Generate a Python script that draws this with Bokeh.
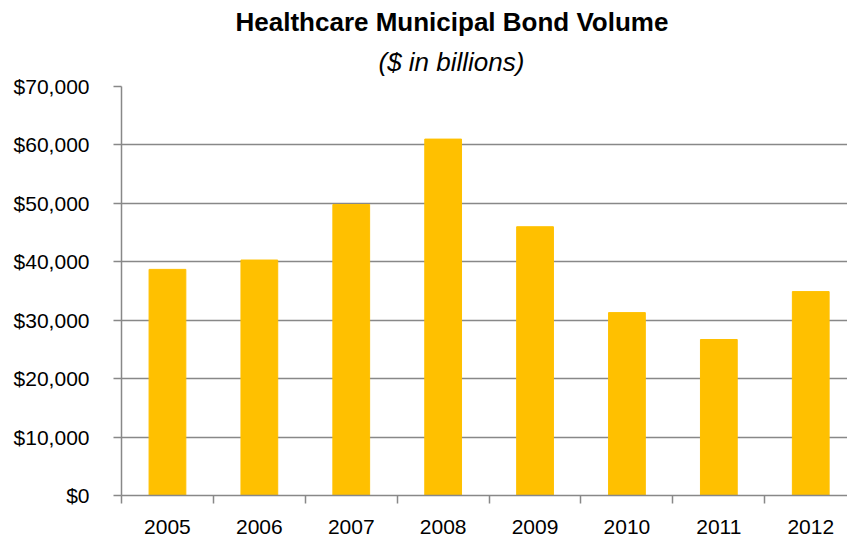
from bokeh.plotting import figure
from bokeh.models import Range1d, FixedTicker, Title, NumeralTickFormatter
from bokeh.embed import file_html
from bokeh.resources import INLINE

years = [2005, 2006, 2007, 2008, 2009, 2010, 2011, 2012]
volume = [38700, 40300, 49800, 61000, 46000, 31300, 26700, 34900]
y_ticks = [0, 10000, 20000, 30000, 40000, 50000, 60000, 70000]
year_labels = {y: str(y) for y in years}

FONT = "Liberation Sans"
GREY = "#888888"

p = figure(width=847, height=540, output_backend="svg", toolbar_location=None,
           x_range=Range1d(years[0] - 0.5, years[-1] + 0.4), y_range=Range1d(0, 70000),
           min_border_left=121, min_border_right=0, min_border_top=86, min_border_bottom=45)
p.outline_line_color = None
p.background_fill_color = "white"
p.border_fill_color = "white"

p.vbar(x=years, top=volume, width=0.4, color="#FFC000")

p.title = None
sub = Title(text="($ in billions)", text_font=FONT, text_font_size="26px", text_color="black",
            text_font_style="italic", align="left", offset=257, standoff=18,
            vertical_align="middle")
main = Title(text="Healthcare Municipal Bond Volume", text_font=FONT, text_font_size="26px",
             text_color="black", text_font_style="bold", align="left", offset=114, standoff=0)
p.add_layout(sub, "above")
p.add_layout(main, "above")

p.xgrid.grid_line_color = None
p.ygrid.grid_line_color = GREY
p.ygrid.grid_line_width = 1.5
p.ygrid.ticker = FixedTicker(ticks=y_ticks)

p.yaxis.ticker = FixedTicker(ticks=y_ticks)
p.yaxis.formatter = NumeralTickFormatter(format="$0,0")
p.yaxis.axis_line_color = GREY
p.yaxis.axis_line_width = 1.5
p.yaxis.major_tick_line_color = GREY
p.yaxis.major_tick_line_width = 1.5
p.yaxis.major_tick_out = 8
p.yaxis.major_tick_in = 0
p.yaxis.minor_tick_line_color = None
p.yaxis.major_label_standoff = 24
p.yaxis.major_label_text_font = FONT
p.yaxis.major_label_text_font_size = "21px"
p.yaxis.major_label_text_color = "black"

p.xaxis.ticker = FixedTicker(ticks=years, minor_ticks=[y - 0.5 for y in years] + [years[-1] + 0.5])
p.xaxis.major_label_overrides = year_labels
p.xaxis.axis_line_color = GREY
p.xaxis.axis_line_width = 1.5
p.xaxis.major_tick_line_color = None
p.xaxis.major_tick_out = 8
p.xaxis.major_tick_in = 0
p.xaxis.minor_tick_line_color = GREY
p.xaxis.minor_tick_line_width = 1.5
p.xaxis.minor_tick_out = 8
p.xaxis.minor_tick_in = 0
p.xaxis.major_label_standoff = 16
p.xaxis.major_label_text_font = FONT
p.xaxis.major_label_text_font_size = "21px"
p.xaxis.major_label_text_color = "black"

open("out.html", "w").write(file_html(p, INLINE))
